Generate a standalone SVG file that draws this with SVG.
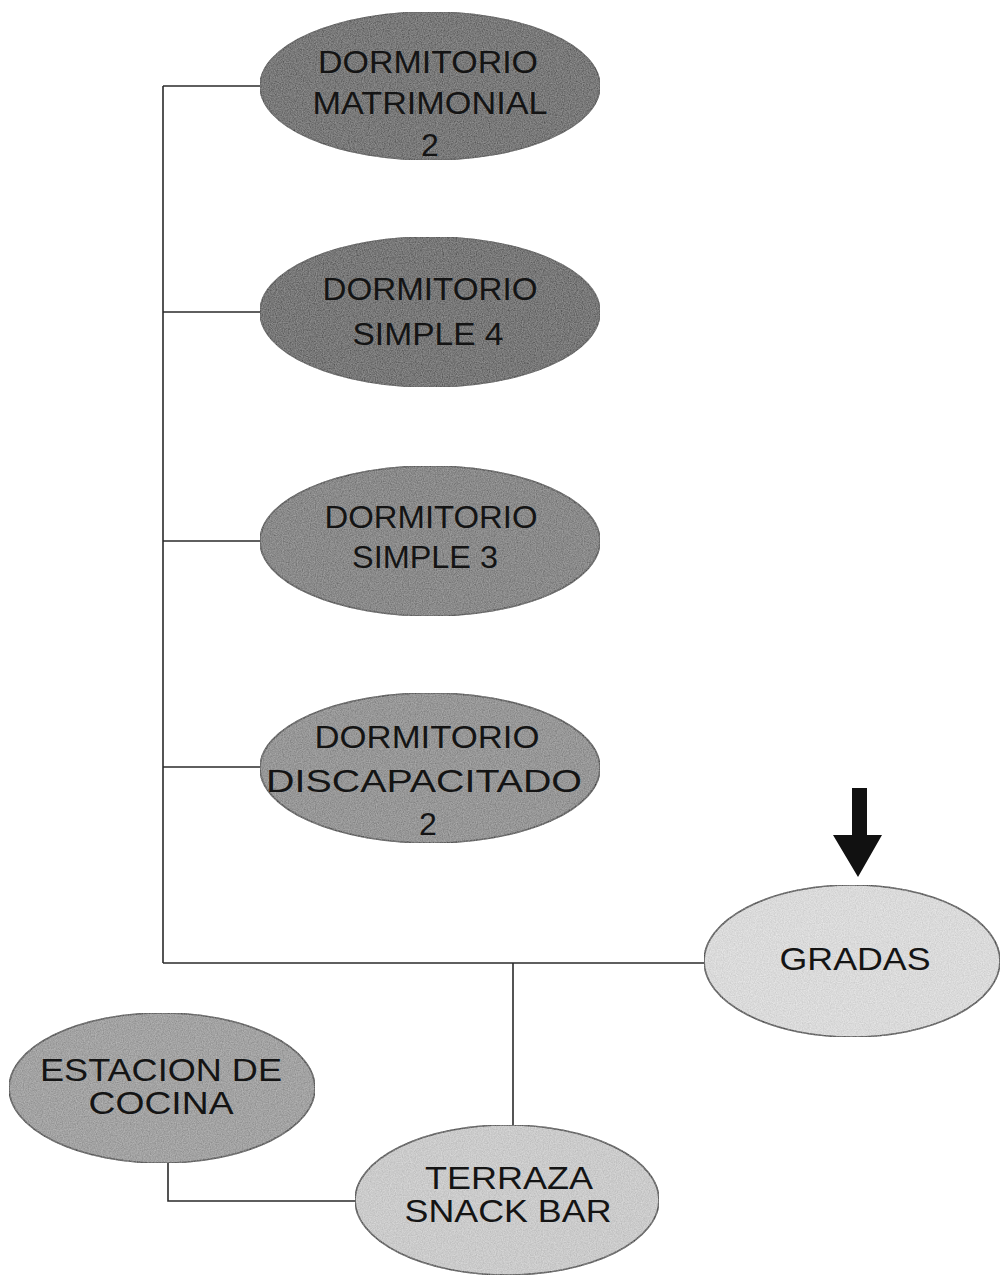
<svg xmlns="http://www.w3.org/2000/svg" width="1003" height="1277" viewBox="0 0 1003 1277">
<style>
.bg{fill:#ffffff}
.node{stroke:#2a2a2a;stroke-width:1.6}
.lbl{font-family:"Liberation Sans","DejaVu Sans",sans-serif;font-size:32px;fill:#141414;text-anchor:middle}
.conn{stroke:#2a2a2a;stroke-width:1.6;fill:none}
</style>
<defs>
<filter id="grain" x="0" y="0" width="100%" height="100%">
<feTurbulence type="fractalNoise" baseFrequency="0.85" numOctaves="2" seed="3" result="n"/>
<feColorMatrix in="n" type="matrix" values="1 0 0 0 0  1 0 0 0 0  1 0 0 0 0  0 0 0 0 0.28" result="g"/>
<feComposite in="g" in2="SourceGraphic" operator="in" result="gi"/>
<feMerge><feMergeNode in="SourceGraphic"/><feMergeNode in="gi"/></feMerge>
</filter>
</defs>
<rect class="bg" x="0" y="0" width="1003" height="1277"/>
<g id="connectors">
<path class="conn" d="M163 86 V963"/>
<path class="conn" d="M163 86 H261"/>
<path class="conn" d="M163 312 H261"/>
<path class="conn" d="M163 541 H261"/>
<path class="conn" d="M163 767 H261"/>
<path class="conn" d="M163 963 H705"/>
<path class="conn" d="M513 963 V1125"/>
<path class="conn" d="M168 1163 V1201 H356"/>
</g>
<g id="arrow">
<path d="M852 788 H867 V835 H882 L858 877 L833 835 H852 Z" fill="#111111"/>
</g>
<g id="n-matrimonial">
<ellipse class="node" cx="430" cy="86" rx="170" ry="74" fill="#4e4e4e" filter="url(#grain)"/>
<text class="lbl" x="428" y="73" textLength="220" lengthAdjust="spacingAndGlyphs">DORMITORIO</text>
<text class="lbl" x="430" y="114" textLength="235" lengthAdjust="spacingAndGlyphs">MATRIMONIAL</text>
<text class="lbl" x="430" y="156">2</text>
</g>
<g id="n-simple4">
<ellipse class="node" cx="430" cy="312" rx="170" ry="75" fill="#4a4a4a" filter="url(#grain)"/>
<text class="lbl" x="430" y="300" textLength="215" lengthAdjust="spacingAndGlyphs">DORMITORIO</text>
<text class="lbl" x="428" y="345" textLength="151" lengthAdjust="spacingAndGlyphs">SIMPLE 4</text>
</g>
<g id="n-simple3">
<ellipse class="node" cx="430" cy="541" rx="170" ry="75" fill="#707070" filter="url(#grain)"/>
<text class="lbl" x="431" y="528" textLength="213" lengthAdjust="spacingAndGlyphs">DORMITORIO</text>
<text class="lbl" x="425" y="568" textLength="146" lengthAdjust="spacingAndGlyphs">SIMPLE 3</text>
</g>
<g id="n-discapacitado">
<ellipse class="node" cx="430" cy="768" rx="170" ry="75" fill="#858585" filter="url(#grain)"/>
<text class="lbl" x="427" y="748" textLength="225" lengthAdjust="spacingAndGlyphs">DORMITORIO</text>
<text class="lbl" x="424" y="792" textLength="316" lengthAdjust="spacingAndGlyphs">DISCAPACITADO</text>
<text class="lbl" x="428" y="835">2</text>
</g>
<g id="n-gradas">
<ellipse class="node" cx="852" cy="961" rx="148" ry="76" fill="#e4e4e4" filter="url(#grain)"/>
<text class="lbl" x="855" y="970" font-size="34" textLength="151" lengthAdjust="spacingAndGlyphs">GRADAS</text>
</g>
<g id="n-estacion">
<ellipse class="node" cx="162" cy="1088" rx="153" ry="75" fill="#989898" filter="url(#grain)"/>
<text class="lbl" x="161" y="1081" textLength="242" lengthAdjust="spacingAndGlyphs">ESTACION DE</text>
<text class="lbl" x="161" y="1114" textLength="145" lengthAdjust="spacingAndGlyphs">COCINA</text>
</g>
<g id="n-terraza">
<ellipse class="node" cx="507" cy="1200" rx="152" ry="75" fill="#d0d0d0" filter="url(#grain)"/>
<text class="lbl" x="509" y="1189" textLength="168" lengthAdjust="spacingAndGlyphs">TERRAZA</text>
<text class="lbl" x="508" y="1222" textLength="207" lengthAdjust="spacingAndGlyphs">SNACK BAR</text>
</g>
</svg>
